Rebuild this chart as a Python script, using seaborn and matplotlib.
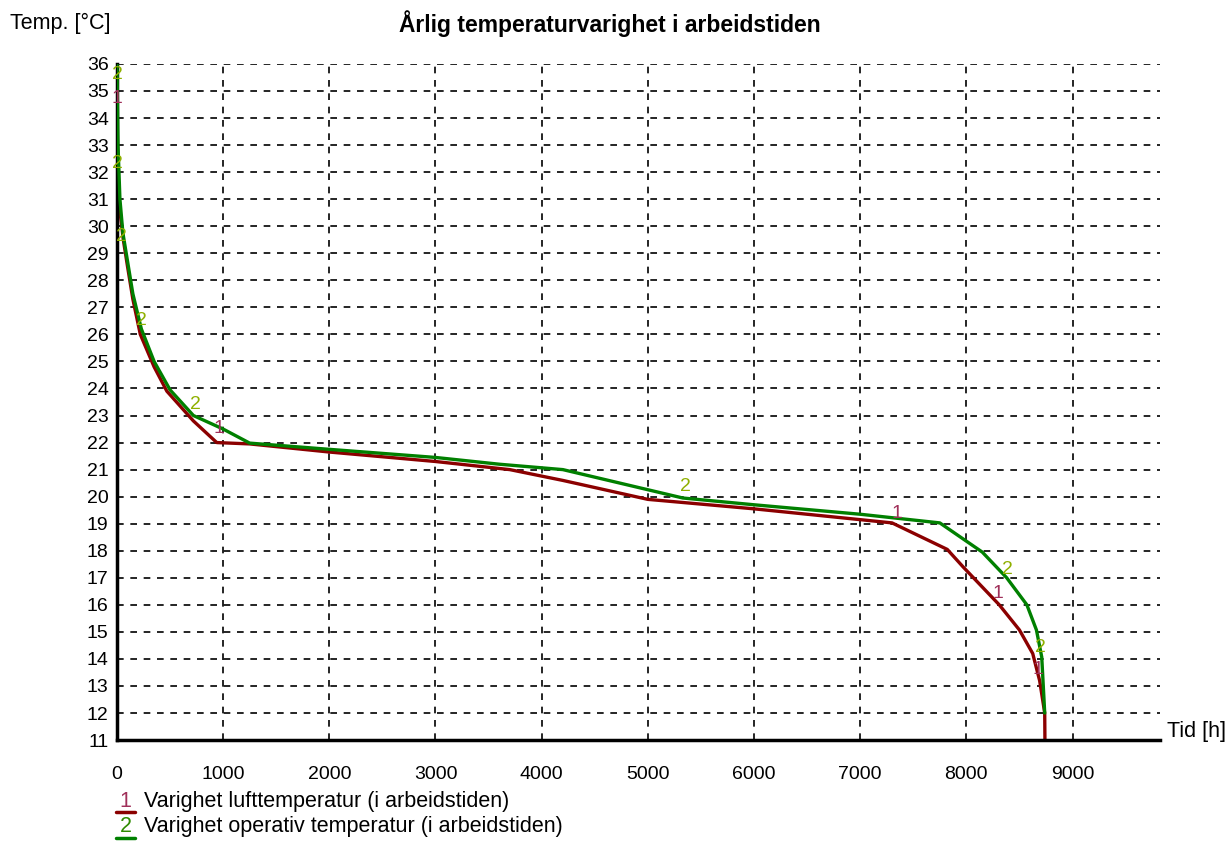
import pandas as pd
import numpy as np
import matplotlib.pyplot as plt
from matplotlib.lines import Line2D
import seaborn as sns

# Duration curves (hours, degC)
air_hours = [0, 10, 30, 60, 100, 150, 220, 350, 470, 720, 940, 1250, 2000, 3000,
             3700, 4200, 5000, 6000, 7300, 7820, 7970, 8310, 8500, 8625, 8690, 8738, 8740]
air_temp = [34.5, 31.5, 30.5, 29.5, 28.5, 27.3, 26.0, 24.8, 23.9, 22.8, 22.0, 21.95, 21.65, 21.3,
            21.0, 20.6, 19.9, 19.55, 19.03, 18.05, 17.4, 16.0, 15.07, 14.2, 13.2, 12.0, 11.0]

op_hours = [0, 10, 28, 56, 150, 230, 350, 500, 720, 1000, 1250, 2000, 3000, 3600,
            4200, 5330, 6000, 7000, 7750, 8150, 8380, 8570, 8660, 8710, 8738]
op_temp = [36.0, 33.0, 31.0, 29.75, 27.5, 26.2, 25.0, 23.95, 23.0, 22.5, 21.98, 21.75, 21.45, 21.2,
           21.0, 19.95, 19.7, 19.35, 19.03, 17.95, 17.0, 16.0, 15.07, 14.07, 12.0]

# curve number labels placed along the lines
air_lbl_x = [0, 960, 7350, 8300, 8670]
air_lbl_y = [34.4, 22.2, 19.05, 16.1, 13.3]
op_lbl_x = [0, 0, 40, 230, 740, 5350, 8390, 8700]
op_lbl_y = [35.3, 32.0, 29.3, 26.2, 23.1, 20.05, 17.0, 14.1]

legend_labels = ['Varighet lufttemperatur (i arbeidstiden)',
                 'Varighet operativ temperatur (i arbeidstiden)']

red = '#8b0000'
green = '#008000'

sns.set_style('white')
plt.rcParams['font.family'] = ['Liberation Sans', 'DejaVu Sans']
plt.rcParams['text.color'] = 'black'

df_air = pd.DataFrame({'h': air_hours, 't': air_temp})
df_op = pd.DataFrame({'h': op_hours, 't': op_temp})

fig = plt.figure(figsize=(12.31, 8.41), dpi=100)
ax = fig.add_axes([0.095, 0.12, 0.847, 0.804])

# grid
for v in range(1000, 10000, 1000):
    ax.axvline(v, color='black', ls=(0, (4, 4)), lw=1.2, zorder=0)
for v in range(12, 37):
    ax.axhline(v, color='black', ls=(0, (4, 4)), lw=1.2, zorder=0)

sns.lineplot(data=df_op, x='h', y='t', sort=False, color=green, lw=2.4, ax=ax, zorder=3)
sns.lineplot(data=df_air, x='h', y='t', sort=False, color=red, lw=2.4, ax=ax, zorder=2)

for x, y in zip(air_lbl_x, air_lbl_y):
    ax.text(x, y, '1', color='#a0305a', fontsize=14, ha='center', va='bottom', zorder=4)
for x, y in zip(op_lbl_x, op_lbl_y):
    ax.text(x, y, '2', color='#8fb000', fontsize=14, ha='center', va='bottom', zorder=4)

ax.set_xlim(0, 9820)
ax.set_ylim(11, 36)
ax.set_xticks(range(0, 10000, 1000))
ax.set_yticks(range(11, 37))
ax.set_xlabel('')
ax.set_ylabel('')
for s in ['top', 'right']:
    ax.spines[s].set_visible(False)
for s in ['left', 'bottom']:
    ax.spines[s].set_linewidth(2.5)
    ax.spines[s].set_color('black')
ax.tick_params(direction='inout', length=10, width=2, labelsize=14, colors='black')
ax.tick_params(axis='y', pad=1)
ax.tick_params(axis='x', pad=14)

fig.text(0.495, 0.972, 'Årlig temperaturvarighet i arbeidstiden', ha='center', va='center',
         fontsize=16.5, fontweight='bold')
fig.text(0.008, 0.972, 'Temp. [°C]', ha='left', va='center', fontsize=15.5)
fig.text(0.948, 0.13, 'Tid [h]', ha='left', va='center', fontsize=15.5)

# legend below the axis
for i, (lbl, col, lcol) in enumerate(zip(legend_labels, [red, green], ['#a0305a', '#2e8b00'])):
    y = 0.047 - i * 0.030
    fig.text(0.102, y, str(i + 1), color=lcol, fontsize=15.5, ha='center', va='center')
    fig.add_artist(Line2D([0.094, 0.110], [y - 0.013, y - 0.013], color=col, lw=2.5))
    fig.text(0.117, y, lbl, fontsize=15.5, ha='left', va='center')

fig.savefig('out.png', dpi=100)
